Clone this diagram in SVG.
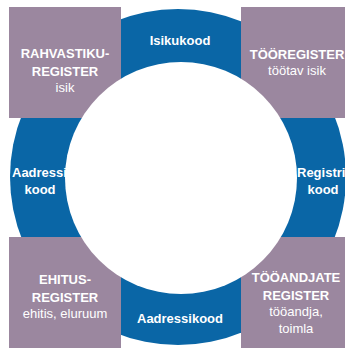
<svg xmlns="http://www.w3.org/2000/svg" width="345" height="348" viewBox="0 0 345 348">
<style>
.ring{fill:#0a66a6}
.box{fill:#9b879f}
.hole{fill:#ffffff}
text{font-family:"Liberation Sans",Arial,sans-serif;font-size:13px;fill:#ffffff}
.b{font-weight:bold}
.c{text-anchor:middle}
</style>
<rect width="345" height="348" fill="#ffffff"/>
<g id="ring">
<circle class="ring" cx="178" cy="177" r="168"/>
</g>
<g id="ring-labels">
<g id="isikukood"><text class="b c" x="180" y="45">Isikukood</text></g>
<g id="aadressikood-left"><text class="b" x="12" y="177">Aadressi</text><text class="b c" x="40" y="194">kood</text></g>
<g id="registrikood"><text class="b" x="297" y="177">Registri</text><text class="b c" x="323" y="194">kood</text></g>
<g id="aadressikood-bottom"><text class="b c" x="180" y="323">Aadressikood</text></g>
</g>
<g id="rahvastikuregister">
<rect class="box" x="9" y="7" width="112" height="111"/>
<text class="b c" x="65" y="58">RAHVASTIKU-</text>
<text class="b c" x="65" y="76">REGISTER</text>
<text class="c" x="65" y="92">isik</text>
</g>
<g id="tooregister">
<rect class="box" x="241" y="7" width="104" height="111"/>
<text class="b c" x="297" y="59">TÖÖREGISTER</text>
<text class="c" x="297" y="75">töötav isik</text>
</g>
<g id="ehitusregister">
<rect class="box" x="9" y="237" width="112" height="111"/>
<text class="b c" x="65" y="284">EHITUS-</text>
<text class="b c" x="65" y="302">REGISTER</text>
<text class="c" x="65" y="318">ehitis, eluruum</text>
</g>
<g id="tooandjateregister">
<rect class="box" x="241" y="237" width="104" height="111"/>
<text class="b c" x="296" y="282">TÖÖANDJATE</text>
<text class="b c" x="296" y="300">REGISTER</text>
<text class="c" x="296" y="316">tööandja,</text>
<text class="c" x="296" y="333">toimla</text>
</g>
<g id="center">
<circle class="hole" cx="181" cy="178" r="116"/>
</g>
</svg>
